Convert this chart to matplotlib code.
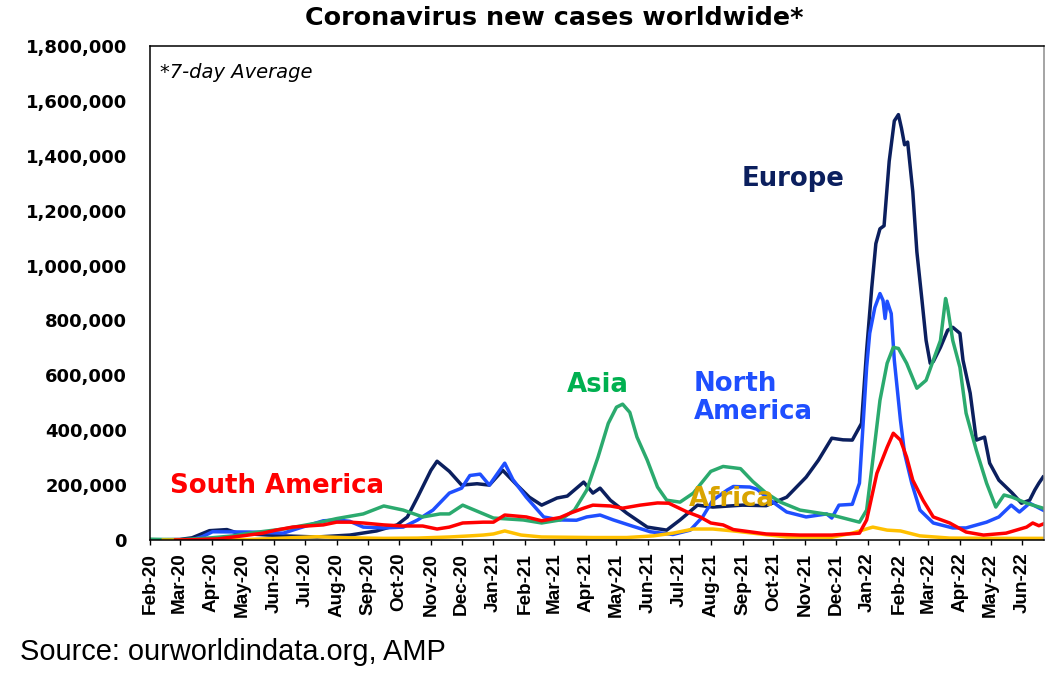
import pandas as pd
import numpy as np
import matplotlib
matplotlib.use('Agg')
import matplotlib.pyplot as plt
import matplotlib.dates as mdates
from matplotlib.ticker import FuncFormatter

# daily new cases, 7-day average, in thousands
eu_dates = ['2020-02-01','2020-03-01','2020-03-13','2020-03-30','2020-04-16','2020-04-25','2020-05-08','2020-06-10',
            '2020-07-13','2020-08-14','2020-09-09','2020-09-29','2020-10-09','2020-10-19','2020-11-01','2020-11-07',
            '2020-11-19','2020-12-01','2020-12-16','2020-12-28','2021-01-10','2021-01-24','2021-02-05','2021-02-17',
            '2021-03-04','2021-03-14','2021-03-30','2021-04-08','2021-04-15','2021-04-25','2021-05-11','2021-05-31',
            '2021-06-19','2021-07-02','2021-07-19','2021-08-03','2021-09-01','2021-09-24','2021-10-14','2021-11-02',
            '2021-11-14','2021-11-27','2021-12-08','2021-12-17','2021-12-26','2021-12-31','2022-01-05','2022-01-09',
            '2022-01-13','2022-01-17','2022-01-22','2022-01-27','2022-01-31','2022-02-03','2022-02-06','2022-02-09',
            '2022-02-14','2022-02-18','2022-02-23','2022-02-27','2022-03-03','2022-03-06','2022-03-13','2022-03-20',
            '2022-03-25','2022-04-01','2022-04-04','2022-04-11','2022-04-17','2022-04-25','2022-04-30','2022-05-09',
            '2022-05-22','2022-05-31','2022-06-08','2022-06-13','2022-06-17','2022-06-21']
eu_vals = [0, 2, 8, 34, 38, 27, 22, 15, 11, 18, 33, 55, 84, 156, 254, 287, 250, 200, 205, 200,
           254, 200, 156, 127, 153, 160, 211, 171, 189, 145, 98, 47, 36, 73, 127, 120, 127, 125, 156, 229,
           291, 371, 365, 364, 425, 691, 920, 1080, 1134, 1145, 1380, 1527, 1550, 1500, 1440, 1450, 1270, 1050, 873, 727,
           644, 650, 702, 764, 775, 753, 655, 535, 364, 375, 280, 218, 171, 134, 145, 182, 207, 229]

na_dates = ['2020-02-01','2020-03-13','2020-03-23','2020-04-02','2020-05-08','2020-06-10','2020-06-26','2020-07-19',
            '2020-08-01','2020-08-14','2020-08-27','2020-09-16','2020-10-05','2020-10-19','2020-11-03','2020-11-19',
            '2020-12-01','2020-12-09','2020-12-19','2020-12-28','2021-01-12','2021-01-20','2021-02-02','2021-02-19',
            '2021-03-07','2021-03-23','2021-04-02','2021-04-15','2021-04-28','2021-05-17','2021-06-03','2021-06-25',
            '2021-07-12','2021-07-24','2021-08-03','2021-08-17','2021-08-23','2021-09-08','2021-09-15','2021-09-28',
            '2021-10-14','2021-11-02','2021-11-22','2021-11-27','2021-12-04','2021-12-17','2021-12-24','2021-12-27',
            '2021-12-31','2022-01-03','2022-01-08','2022-01-13','2022-01-16','2022-01-18','2022-01-20','2022-01-24',
            '2022-01-27','2022-02-02','2022-02-06','2022-02-13','2022-02-21','2022-03-06','2022-03-25','2022-04-07',
            '2022-04-27','2022-05-09','2022-05-21','2022-05-29','2022-06-08','2022-06-21']
na_vals = [0, 1, 12, 30, 29, 25, 44, 70, 73, 68, 47, 44, 47, 73, 109, 171, 189, 235, 240, 200,
           280, 220, 156, 84, 73, 72, 84, 91, 73, 50, 30, 20, 36, 84, 145, 182, 195, 193, 185, 145,
           102, 84, 95, 80, 127, 130, 207, 389, 629, 753, 847, 898, 873, 807, 870, 825, 655, 436, 316, 207,
           109, 62, 44, 44, 65, 84, 127, 102, 134, 109]

as_dates = ['2020-02-01','2020-02-15','2020-03-01','2020-04-01','2020-04-22','2020-05-08','2020-06-10','2020-07-13',
            '2020-08-01','2020-08-27','2020-09-16','2020-10-05','2020-10-24','2020-11-10','2020-11-19','2020-12-02',
            '2021-01-01','2021-01-30','2021-02-17','2021-03-07','2021-03-21','2021-04-02','2021-04-13','2021-04-23',
            '2021-05-01','2021-05-07','2021-05-14','2021-05-21','2021-05-31','2021-06-10','2021-06-19','2021-07-02',
            '2021-07-15','2021-08-01','2021-08-13','2021-08-30','2021-09-11','2021-09-24','2021-10-08','2021-10-27',
            '2021-11-27','2021-12-24','2021-12-31','2022-01-06','2022-01-13','2022-01-20','2022-01-26','2022-01-31',
            '2022-02-08','2022-02-18','2022-02-27','2022-03-06','2022-03-13','2022-03-18','2022-03-20','2022-03-25',
            '2022-04-01','2022-04-07','2022-04-17','2022-04-27','2022-05-06','2022-05-14','2022-05-22','2022-06-05',
            '2022-06-21']
as_vals = [3, 2, 1, 8, 15, 25, 40, 62, 78, 95, 124, 109, 84, 95, 95, 127, 80, 73, 62, 73,
           109, 182, 302, 425, 484, 495, 465, 375, 291, 193, 145, 138, 171, 250, 268, 260, 213, 171, 138, 109,
           91, 65, 109, 291, 509, 644, 702, 698, 644, 553, 582, 655, 727, 880, 847, 727, 629, 462, 327, 207,
           120, 164, 156, 134, 116]

sa_dates = ['2020-02-26','2020-03-13','2020-04-07','2020-05-01','2020-05-21','2020-06-03','2020-06-19',
            '2020-07-03','2020-07-19','2020-08-01','2020-08-14','2020-08-27','2020-09-16','2020-10-05','2020-10-24',
            '2020-11-07','2020-11-19','2020-12-02','2020-12-22','2021-01-01','2021-01-12','2021-02-02','2021-02-17',
            '2021-03-07','2021-03-17','2021-03-30','2021-04-08','2021-04-25','2021-05-07','2021-05-24','2021-06-10',
            '2021-06-21','2021-07-09','2021-07-21','2021-08-01','2021-08-13','2021-08-23','2021-09-24','2021-10-27',
            '2021-11-27','2021-12-24','2021-12-31','2022-01-10','2022-01-20','2022-01-26','2022-02-02','2022-02-08',
            '2022-02-14','2022-02-24','2022-03-06','2022-03-22','2022-04-07','2022-04-24','2022-05-16','2022-06-05',
            '2022-06-11','2022-06-17','2022-06-21']
sa_vals = [0, 1, 4, 15, 25, 36, 47, 51, 55, 65, 65, 62, 55, 51, 51, 40, 47, 62, 65,
           65, 91, 84, 70, 82, 98, 116, 127, 124, 116, 127, 135, 134, 102, 85, 62, 55, 38, 22, 18,
           18, 25, 73, 243, 338, 389, 364, 302, 218, 145, 84, 62, 29, 18, 25, 47, 62, 52, 58]

af_dates = ['2020-02-14','2020-04-01','2020-05-08','2020-06-10','2020-07-13','2020-08-14','2020-09-16','2020-10-19',
            '2020-11-19','2020-12-09','2020-12-22','2021-01-01','2021-01-12','2021-01-28','2021-02-17','2021-04-08',
            '2021-05-11','2021-06-06','2021-06-25','2021-07-15','2021-08-03','2021-08-23','2021-09-18','2021-10-14',
            '2021-11-27','2021-12-17','2022-01-06','2022-01-20','2022-02-02','2022-02-21','2022-03-22','2022-05-09',
            '2022-06-21']
af_vals = [0, 0.5, 2, 7, 12, 8, 6, 7, 11, 15, 18, 22, 33, 18, 11, 9, 9, 15, 25, 40,
           40, 33, 22, 11, 10, 25, 47, 36, 33, 15, 7, 6, 6]

y_ticks = np.arange(0, 1800001, 200000)

fig = plt.figure(figsize=(10.6, 6.8), dpi=100)
ax = fig.add_axes([150/1060, 140/680, 894/1060, 494/680])

series = [
    (eu_dates, eu_vals, '#0B1F5E'),
    (na_dates, na_vals, '#1F4FFF'),
    (as_dates, as_vals, '#2BAA6E'),
    (af_dates, af_vals, '#FFC000'),
    (sa_dates, sa_vals, '#FF0000'),
]
for d, v, c in series:
    ax.plot(pd.to_datetime(d), np.array(v) * 1000, color=c, lw=2.5, solid_joinstyle='round')

ax.set_xlim(pd.Timestamp('2020-02-01'), pd.Timestamp('2022-06-22'))
ax.set_ylim(0, 1800000)
ax.set_yticks(y_ticks)
ax.yaxis.set_major_formatter(FuncFormatter(lambda v, _: f'{v:,.0f}'))
ax.xaxis.set_major_locator(mdates.MonthLocator())
ax.xaxis.set_major_formatter(mdates.DateFormatter('%b-%y'))

for lab in ax.get_yticklabels():
    lab.set_fontfamily('DejaVu Sans')
    lab.set_fontweight('bold')
    lab.set_fontsize(13)
for lab in ax.get_xticklabels():
    lab.set_fontfamily('Liberation Sans')
    lab.set_fontweight('bold')
    lab.set_fontsize(13.6)
    lab.set_rotation(90)

ax.tick_params(axis='y', length=0, pad=16.5)
ax.tick_params(axis='x', length=3.6, width=1, pad=5.5, direction='out')
for s in ['left', 'top', 'bottom']:
    ax.spines[s].set_linewidth(1.1)
    ax.spines[s].set_color('black')
ax.spines['right'].set_linewidth(1.1)
ax.spines['right'].set_color('#8C8C8C')

# labels
fig.text(554/1060, 1 - 18/680, 'Coronavirus new cases worldwide*', ha='center', va='center',
         fontsize=18.3, fontweight='bold', family='DejaVu Sans')
fig.text(160/1060, 1 - 73/680, '*7-day Average', ha='left', va='center',
         fontsize=14, style='italic', family='DejaVu Sans')
fig.text(20/1060, 1 - 652/680, 'Source: ourworldindata.org, AMP', ha='left', va='center',
         fontsize=20.9, family='Liberation Sans')

lab_kw = dict(ha='left', va='baseline', fontsize=18.7, fontweight='bold', family='DejaVu Sans')
fig.text(742/1060, 1 - 186/680, 'Europe', color='#0B1F5E', **lab_kw)
fig.text(567/1060, 1 - 392/680, 'Asia', color='#00B050', **lab_kw)
fig.text(694/1060, 1 - 391/680, 'North', color='#1F4FFF', **lab_kw)
fig.text(694/1060, 1 - 419/680, 'America', color='#1F4FFF', **lab_kw)
fig.text(170/1060, 1 - 493/680, 'South America', color='#FF0000', **lab_kw)
fig.text(689/1060, 1 - 506/680, 'Africa', color='#D9A400', **lab_kw)

fig.savefig('out.png', dpi=100)
